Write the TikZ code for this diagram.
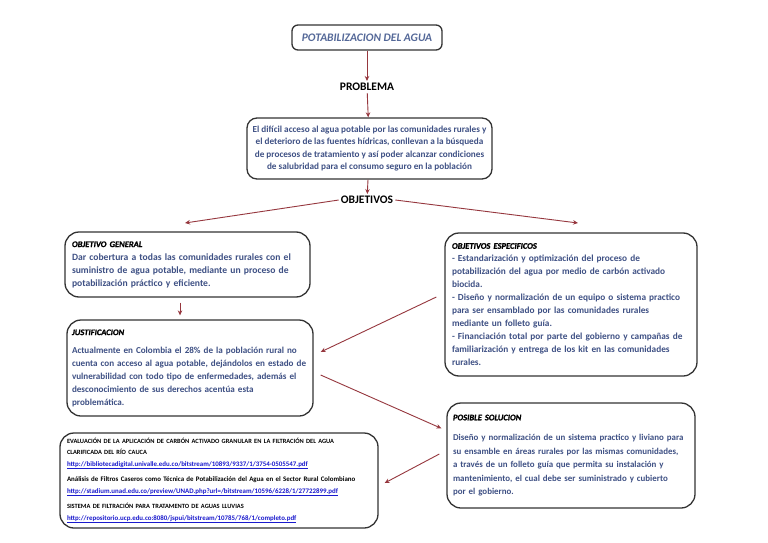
\documentclass[tikz,border=0pt]{standalone}
\usepackage{fontspec}
\setmainfont{Carlito}
\usetikzlibrary{arrows.meta}

\definecolor{azultexto}{RGB}{62,80,132}
\definecolor{azultitulo}{RGB}{84,104,152}
\definecolor{rojoflecha}{RGB}{150,55,62}
\definecolor{azulenlace}{RGB}{25,25,205}

\newcommand{\encab}[1]{{\color{black}\fontsize{8.5}{13}\selectfont\bfseries\itshape\addfontfeature{FakeBold=1.2} #1}}
\newcommand{\enlace}[1]{{\color{azulenlace}\underline{#1}}}
\newcommand{\mayus}[1]{{\fontsize{6.4}{11.5}\selectfont #1}}

\tikzstyle{caja} = [draw=black!80, line width=1.3pt, rounded corners=14pt, fill=white, align=left, inner sep=0pt, text=azultexto, font=\fontsize{9.3}{13}\selectfont\bfseries]
\tikzstyle{etiqueta} = [inner sep=2pt, font=\fontsize{11.5}{12}\selectfont\bfseries]
\tikzstyle{flecha} = [draw=rojoflecha, line width=0.9pt, -{Stealth[length=5pt,width=4.5pt]}]

\begin{document}
\begin{tikzpicture}[x=1pt,y=-1pt]
\useasboundingbox[fill=white] (0,0) rectangle (768,543);
%titulo
\node[caja, rounded corners=6pt, minimum width=150pt, minimum height=25pt, text=azultitulo,
      font=\fontsize{11.5}{12}\selectfont\bfseries\itshape] (titulo) at (367,37.5) {POTABILIZACION DEL AGUA};
%begin problema
\node[etiqueta] (problema) at (367,87) {PROBLEMA};
\node[caja, rounded corners=10pt, align=center, minimum width=245pt, minimum height=61pt,
      font=\fontsize{9.2}{12.5}\selectfont\bfseries] (probbox) at (369.5,148.5) {%
El difícil acceso al agua potable por las comunidades rurales y\\
el deterioro de las fuentes hídricas, conllevan a la búsqueda\\
de procesos de tratamiento y así poder alcanzar condiciones\\
de salubridad para el consumo seguro en la población};
%end problema
%begin objetivos
\node[etiqueta] (objetivos) at (367,200) {OBJETIVOS};
\coordinate (izq) at (185,223);
\coordinate (der) at (578,223);
\node[caja, minimum width=245pt, minimum height=65pt, text width=231pt,
      font=\fontsize{9.6}{13}\selectfont\bfseries] (objgen) at (187.5,264.5) {%
\encab{OBJETIVO GENERAL}\\
Dar cobertura a todas las comunidades rurales con el\\
suministro de agua potable, mediante un proceso de\\
potabilización práctico y eficiente.};
\node[caja, minimum width=252pt, minimum height=143pt, text width=238pt] (objesp) at (571,304.5) {%
\encab{OBJETIVOS ESPECIFICOS}\\
- Estandarización y optimización del proceso de\\
potabilización del agua por medio de carbón activado\\
biocida.\\
- Diseño y normalización de un equipo o sistema practico\\
para ser ensamblado por las comunidades  rurales\\
mediante un folleto guía.\\
- Financiación total por parte del gobierno y campañas de\\
familiarización y entrega de los kit en las comunidades\\
rurales.};
%end objetivos
%begin justificacion
\node[caja, minimum width=246pt, minimum height=96pt, text width=236pt,
      font=\fontsize{9.1}{13}\selectfont\bfseries] (justif) at (190,368) {%
\encab{JUSTIFICACION}\\[5pt]
Actualmente en Colombia el 28\% de la población rural no\\
cuenta con acceso al agua potable, dejándolos en estado de\\
vulnerabilidad con todo tipo de enfermedades, además el\\
desconocimiento de sus derechos acentúa esta\\
problemática.};
%end justificacion
%begin solucion
\node[caja, minimum width=248pt, minimum height=105pt, text width=236pt,
      font=\fontsize{8.9}{13.5}\selectfont\bfseries] (sol) at (571,455.5) {%
\encab{POSIBLE SOLUCION}\\[7pt]
Diseño y normalización de un sistema practico y liviano para\\
su ensamble en áreas rurales por  las mismas comunidades,\\
a través de un folleto guía  que permita su instalación y\\
mantenimiento, el cual debe ser suministrado y cubierto\\
por el gobierno.};
%end solucion
%begin referencias
\node[caja, minimum width=318pt, minimum height=95pt, text width=304pt, text=black,
      font=\fontsize{6.9}{11.5}\selectfont\bfseries] (refs) at (219,480.5) {%
\mayus{EVALUACIÓN DE LA APLICACIÓN DE CARBÓN ACTIVADO GRANULAR EN LA FILTRACIÓN DEL AGUA}\\
\mayus{CLARIFICADA DEL RÍO CAUCA}\\
\enlace{http://bibliotecadigital.univalle.edu.co/bitstream/10893/9337/1/3754-0505547.pdf}\\[4pt]
Análisis de Filtros Caseros como Técnica de Potabilización del Agua en el Sector Rural Colombiano\\
\enlace{http://stadium.unad.edu.co/preview/UNAD.php?url=/bitstream/10596/6228/1/27722899.pdf}\\[4pt]
\mayus{SISTEMA DE FILTRACIÓN PARA TRATAMENTO DE AGUAS LLUVIAS}\\
\enlace{http://repositorio.ucp.edu.co:8080/jspui/bitstream/10785/768/1/completo.pdf}};
%end referencias
%begin flechas
\draw[flecha] (titulo) -- (problema);
\draw[flecha] (problema) -- (probbox);
\draw[flecha] (probbox) -- (objetivos);
\draw[flecha] (objetivos.west) -- (izq);
\draw[flecha] (objetivos.east) -- (der);
\draw[flecha, shorten <=5pt, shorten >=4pt] ([xshift=-7.5pt]objgen.south) -- ([xshift=-7.5pt]objgen.south |- justif.north);
\draw[flecha] ([xshift=-8pt,yshift=7.5pt]objesp.west) -- ([xshift=7pt,yshift=16pt]justif.east);
\draw[flecha] ([xshift=7pt,yshift=-7pt]justif.east) -- ([xshift=-5pt,yshift=-26pt]sol.north west);
\draw[flecha] ([xshift=-7pt,yshift=1.5pt]sol.west) -- ([xshift=6pt,yshift=-2.5pt]refs.east);
%end flechas
\end{tikzpicture}
\end{document}
